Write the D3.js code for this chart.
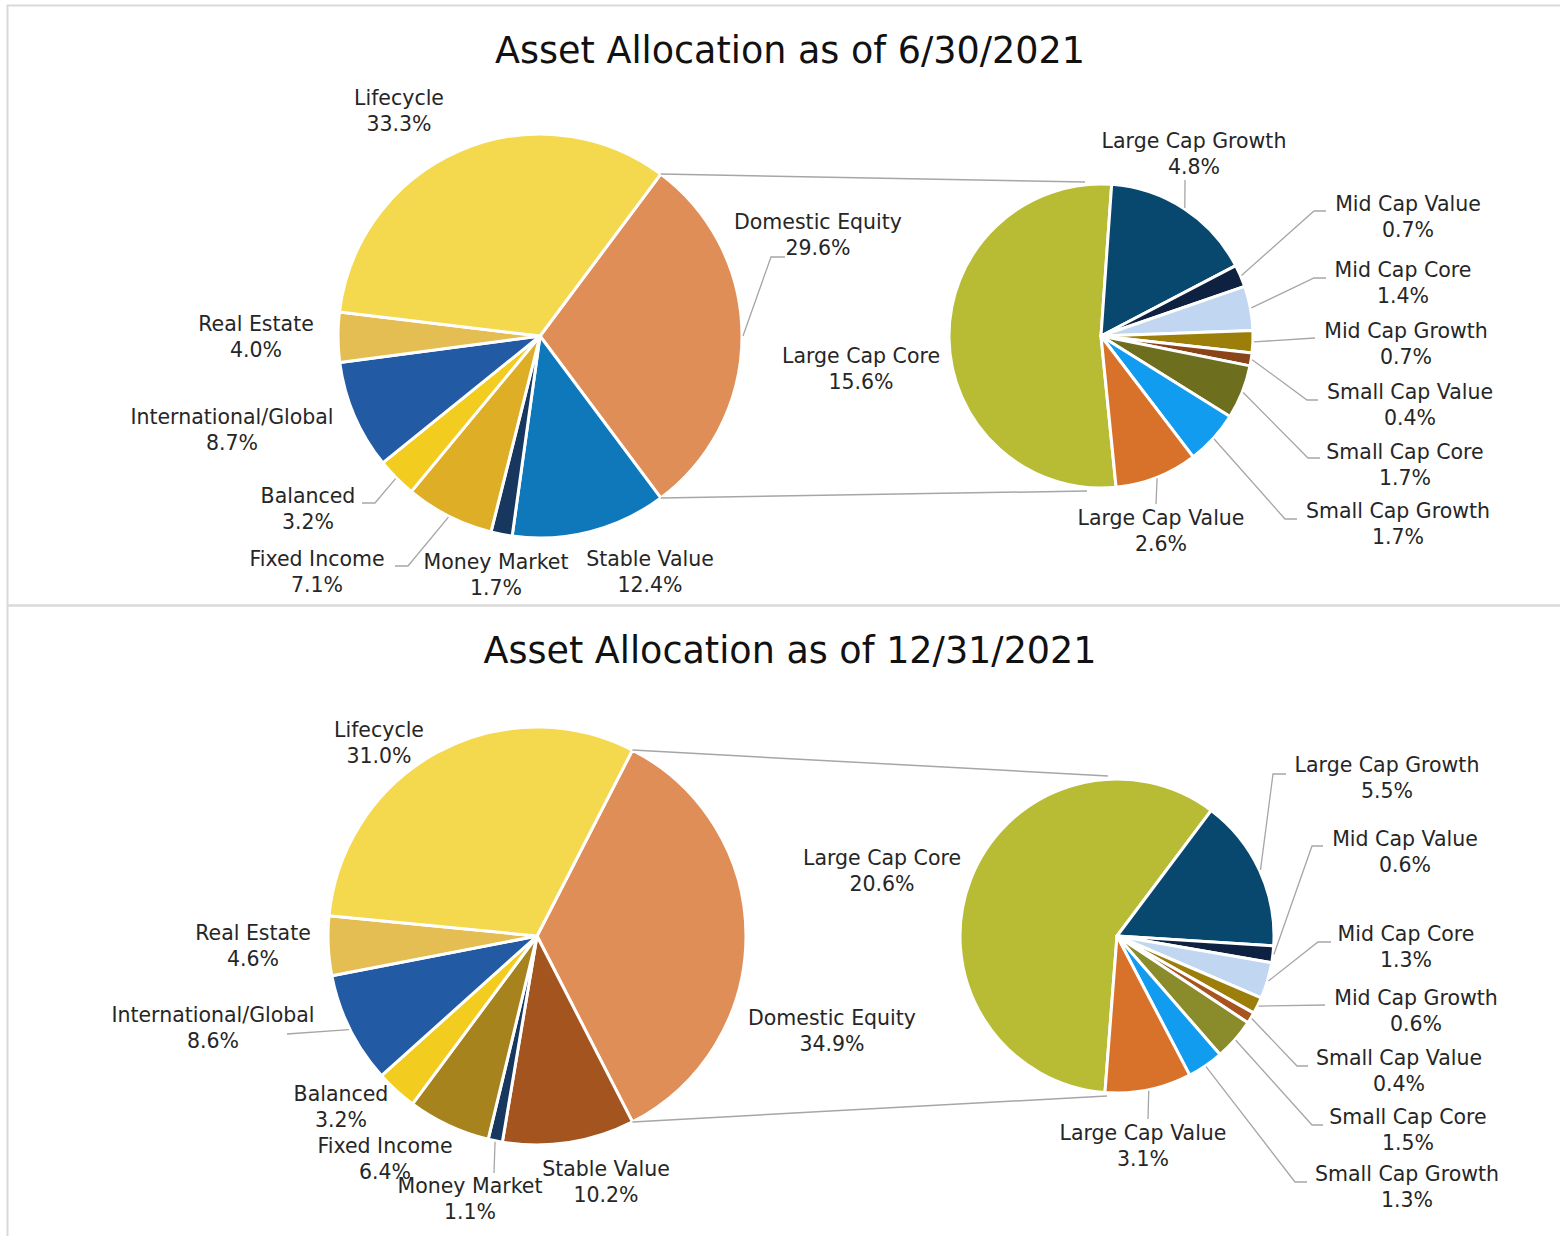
<!DOCTYPE html>
<html>
<head>
<meta charset="utf-8">
<script src="https://cdnjs.cloudflare.com/ajax/libs/d3/7.8.5/d3.min.js"></script>
<style>
  body { margin: 0; background: #fff; }
  svg { display: block; font-family: "DejaVu Sans", sans-serif; }
</style>
</head>
<body>
<div class="content-container"></div>
<script>
    // DATA (percent of plan assets)
    const titles = ["Asset Allocation as of 6/30/2021", "Asset Allocation as of 12/31/2021"];

    const mainCategories = ["Domestic Equity", "Stable Value", "Money Market", "Fixed Income", "Balanced", "International/Global", "Real Estate", "Lifecycle"];
    const mainValuesJun = [29.6, 12.4, 1.7, 7.1, 3.2, 8.7, 4.0, 33.3];
    const mainValuesDec = [34.9, 10.2, 1.1, 6.4, 3.2, 8.6, 4.6, 31.0];

    const subCategories = ["Large Cap Core", "Large Cap Growth", "Mid Cap Value", "Mid Cap Core", "Mid Cap Growth", "Small Cap Value", "Small Cap Core", "Small Cap Growth", "Large Cap Value"];
    const subValuesJun = [15.6, 4.8, 0.7, 1.4, 0.7, 0.4, 1.7, 1.7, 2.6];
    const subValuesDec = [20.6, 5.5, 0.6, 1.3, 0.6, 0.4, 1.5, 1.3, 3.1];

    const mainColorsJun = ["#e08e58", "#0e78ba", "#17375e", "#deaf26", "#f2cc1e", "#225ba4", "#e4be52", "#f4d84d"];
    const mainColorsDec = ["#e08e58", "#a4541f", "#17375e", "#a7831e", "#f2cc1e", "#225ba4", "#e4be52", "#f4d84d"];
    const subColorsJun = ["#b8bc35", "#08476e", "#0e2141", "#c1d6f1", "#9c7f0a", "#8b4318", "#6d6f1f", "#119cf0", "#d8722b"];
    const subColorsDec = ["#b8bc35", "#08476e", "#0e2141", "#c1d6f1", "#9c7f0a", "#a7541f", "#8a8b2a", "#119cf0", "#d8722b"];

    const width = 1560;
    const height = 1236;
    const fmt = d3.format(".1f");

    // LAYOUT: label anchor [x, baseline, leader elbow [x, y, end x]]
    const panels = [
      {
        title: titles[0], mainValues: mainValuesJun, subValues: subValuesJun,
        mainColors: mainColorsJun, subColors: subColorsJun,
        boxTop: 5, boxHeight: 600, titleY: 63,
        main: {cx: 540, cy: 336, r: 202},
        sub: {cx: 1101, cy: 336, r: 152, start: -185.7},
        connTop: [-16, -2], connBottom: [-14, 3],
        mainLabels: [
          [818, 229, [771, 257, 785]], [650, 566, null], [496, 569, null], [317, 566, [408, 566, 395]],
          [308, 503, [375, 503, 362]], [232, 424, null], [256, 331, null], [399, 105, null]
        ],
        subLabels: [
          [861, 363, null], [1194, 148, [1185, 180, null]], [1408, 211, [1314, 211, 1326]],
          [1403, 277, [1314, 278, 1326]], [1406, 338, [1315, 338, null]], [1410, 399, [1307, 400, 1318]],
          [1405, 459, [1308, 458, 1320]], [1398, 518, [1285, 519, 1297]], [1161, 525, [1156, 504, null]]
        ]
      },
      {
        title: titles[1], mainValues: mainValuesDec, subValues: subValuesDec,
        mainColors: mainColorsDec, subColors: subColorsDec,
        boxTop: 605, boxHeight: 700, titleY: 663,
        main: {cx: 537, cy: 936, r: 209},
        sub: {cx: 1117, cy: 936, r: 157, start: -175.6},
        connTop: [-9, -3], connBottom: [-10, 3],
        mainLabels: [
          [832, 1025, null], [606, 1176, null], [470, 1193, [494, 1173, null]], [385, 1153, null],
          [341, 1101, null], [213, 1022, [287, 1034, null]], [253, 940, null], [379, 737, null]
        ],
        subLabels: [
          [882, 865, null], [1387, 772, [1273, 774, 1286]], [1405, 846, [1312, 846, 1323]],
          [1406, 941, [1318, 942, 1331]], [1416, 1005, [1325, 1005, null]], [1399, 1065, [1297, 1066, 1308]],
          [1408, 1124, [1312, 1125, 1323]], [1407, 1181, [1295, 1182, 1307]], [1143, 1140, [1148, 1119, null]]
        ]
      }
    ];

    const svg = d3.select(".content-container")
      .append("svg")
      .attr("width", width)
      .attr("height", height);

    const line = d3.line();

    function edgePoint(c, angle, r) {
      return [c.cx + r * Math.sin(angle), c.cy - r * Math.cos(angle)];
    }

    // draws one pie with labels and leader lines, returns the arcs
    function drawPie(g, c, names, values, colors, startAngle, labels) {
      const pie = d3.pie().sort(null).value(d => d)
        .startAngle(startAngle).endAngle(startAngle + 2 * Math.PI);
      const arcs = pie(values);
      const arc = d3.arc().innerRadius(0).outerRadius(c.r);

      g.append("g")
        .attr("transform", "translate(" + c.cx + "," + c.cy + ")")
        .selectAll("path")
        .data(arcs)
        .enter()
        .append("path")
        .attr("d", arc)
        .attr("fill", (d, i) => colors[i])
        .attr("stroke", "#fff")
        .attr("stroke-width", 3)
        .attr("stroke-linejoin", "round");

      //LEADER LINES
      arcs.forEach((d, i) => {
        const lead = labels[i][2];
        if (!lead) return;
        const mid = (d.startAngle + d.endAngle) / 2;
        const pts = [edgePoint(c, mid, c.r + 1), [lead[0], lead[1]]];
        if (lead[2] != null) pts.push([lead[2], lead[1]]);
        g.append("path")
          .attr("d", line(pts))
          .attr("fill", "none")
          .attr("stroke", "#a6a6a6")
          .attr("stroke-width", 1.3);
      });

      //LABELS
      const text = g.selectAll(null)
        .data(arcs)
        .enter()
        .append("text")
        .attr("text-anchor", "middle")
        .attr("font-size", "20.5px")
        .attr("fill", "#262626");
      text.append("tspan")
        .attr("x", (d, i) => labels[i][0])
        .attr("y", (d, i) => labels[i][1])
        .text((d, i) => names[i]);
      text.append("tspan")
        .attr("x", (d, i) => labels[i][0])
        .attr("y", (d, i) => labels[i][1] + 26)
        .text(d => fmt(d.data) + "%");

      return arcs;
    }

    panels.forEach(p => {
      const g = svg.append("g");

      // frame
      g.append("rect")
        .attr("x", 7.5)
        .attr("y", p.boxTop + 0.5)
        .attr("width", width)
        .attr("height", p.boxHeight)
        .attr("fill", "none")
        .attr("stroke", "#d9d9d9")
        .attr("stroke-width", 2);

      //TITLE
      g.append("text")
        .attr("x", 790)
        .attr("y", p.titleY)
        .attr("text-anchor", "middle")
        .attr("font-size", "36.5px")
        .attr("fill", "#111")
        .text(p.title);

      // other slice (Domestic Equity) centred on the right
      const total = d3.sum(p.mainValues);
      const mainStart = Math.PI / 2 - (p.mainValues[0] / total) * Math.PI;
      const mainArcs = drawPie(g, p.main, mainCategories, p.mainValues, p.mainColors, mainStart, p.mainLabels);

      //CONNECTOR LINES
      const de = mainArcs[0];
      const s = p.sub;
      const conns = [
        [edgePoint(p.main, de.startAngle, p.main.r), [s.cx + p.connTop[0], s.cy - s.r + p.connTop[1]]],
        [edgePoint(p.main, de.endAngle, p.main.r), [s.cx + p.connBottom[0], s.cy + s.r + p.connBottom[1]]]
      ];
      conns.forEach(pts => {
        g.append("path")
          .attr("d", line(pts))
          .attr("fill", "none")
          .attr("stroke", "#a6a6a6")
          .attr("stroke-width", 1.5);
      });

      drawPie(g, s, subCategories, p.subValues, p.subColors, s.start * Math.PI / 180, p.subLabels);
    });
</script>
</body>
</html>
